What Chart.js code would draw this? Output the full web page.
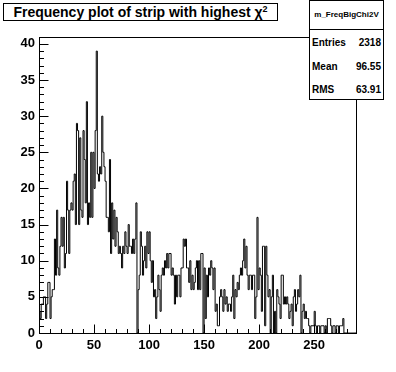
<!DOCTYPE html>
<html>
<head>
<meta charset="utf-8">
<script src="https://cdn.jsdelivr.net/npm/chart.js@4"></script>
<style>
  body { margin: 0; background: #fff; }
  #wrap { position: relative; width: 396px; height: 372px; font-family: "Liberation Sans", Arial, sans-serif; }
  #c { position: absolute; left: 0; top: 0; }
  .title {
    position: absolute; left: 3px; top: 3px; width: 275px; height: 18px;
    box-sizing: border-box; border: 1px solid #000; background: #fff;
    font-weight: bold; font-size: 14px; line-height: 16px; text-align: center;
  }
  .title sup { font-size: 9px; vertical-align: 5px; line-height: 0; }
  .stats {
    position: absolute; left: 309px; top: 0px; width: 75px; height: 100px;
    box-sizing: border-box; border: 1px solid #000; background: #fff;
    font-weight: bold; font-size: 10px;
  }
  .stats .head { height: 28px; line-height: 28px; border-bottom: 1px solid #000; text-align: center; font-size: 8px; }
  .stats .row { position: absolute; left: 2px; right: 2px; height: 12px; line-height: 12px; }
  .stats .row span { float: right; }
</style>
</head>
<body>
<div id="wrap">
  <canvas id="c" width="396" height="372"></canvas>
  <div class="title">Frequency plot of strip with highest &chi;<sup>2</sup></div>
  <div class="stats">
    <div class="head">m_FreqBigChi2V</div>
    <div class="row" style="top:36px">Entries<span>2318</span></div>
    <div class="row" style="top:60px">Mean<span>96.55</span></div>
    <div class="row" style="top:83px">RMS<span>63.91</span></div>
  </div>
</div>
<script>
// ----------------------------
// DATA (one bin per strip, 0..287)
// ----------------------------
const xMin = 0;
const xMax = 288;
const yMax = 40.95;
const xTicks = [0, 50, 100, 150, 200, 250];
const yTicks = [0, 5, 10, 15, 20, 25, 30, 35, 40];
const counts = [
  2, 3, 2, 4, 4, 5, 5, 2, 4, 7, 7, 2, 5, 6, 6,
  13, 8, 17, 9, 8, 12, 16, 12, 16, 9, 11, 21, 17, 11, 17, 18, 17, 21,
  22, 15, 29, 28, 15, 27, 17, 16, 28, 24, 18, 32, 15, 18, 16, 25, 16, 25, 20, 28,
  39, 22, 21, 23, 22, 30, 25, 23,
  21, 16, 16, 14, 24, 11, 18, 13, 17, 12, 16, 14, 11, 12, 11, 9, 12, 11, 14, 12,
  11, 15, 12, 12, 11, 13, 11, 13, 18, 0,
  6, 8, 14, 12, 8, 10, 12, 9, 14, 11, 14, 10, 7, 10, 5, 6, 2, 5, 8, 6,
  3, 8, 9, 8, 10, 9, 11, 9, 11, 11, 8, 9, 8, 4, 8, 5, 8, 8, 5, 9, 9, 13, 12, 13, 9, 9,
  7, 10, 6, 8, 6, 7, 9, 10, 6, 10, 6, 11, 11, 0, 9, 2, 8, 5, 9, 8, 10,
  9, 6, 9, 3, 4, 1, 1, 5, 6, 5, 3, 6, 4, 5, 3, 4,
  4, 3, 5, 8, 2, 6, 5, 7, 6, 8, 9, 8, 10, 13, 9, 12, 8, 6, 8, 8,
  6, 8, 8, 2, 5, 16, 6, 9, 8, 3, 12, 12, 1, 12, 8, 5, 6, 0, 5, 8,
  0, 3, 0, 6, 5, 4, 2, 8, 8, 4, 5, 4, 5,
  4, 2, 3, 4, 1, 5, 6, 3, 4, 6, 5, 8, 0,
  3, 4, 2, 3, 2, 2, 1, 0, 1, 1, 1, 3, 1, 0, 1, 1, 0, 1, 1, 1,
  0, 1, 0, 2, 2, 2, 1, 0, 1, 1, 0, 1, 1, 0, 1, 1, 1, 2, 0,
  0, 0, 0, 0, 0, 0, 0, 0, 0
];

// step outline: each bin starts at its lower edge, last point closes the top edge
const points = counts.map((v, i) => ({ x: i, y: v }));
points.push({ x: xMax, y: counts[counts.length - 1] });

// ----------------------------
// ROOT STYLE FRAME + INWARD TICKS
// ----------------------------
const rootFrame = {
  id: "rootFrame",
  afterDraw(chart) {
    const { ctx, chartArea: a, scales } = chart;
    const L = Math.round(a.left) + 0.5, R = Math.round(a.right) + 0.5;
    const T = Math.round(a.top) + 0.5, B = Math.round(a.bottom) + 0.5;
    ctx.save();
    ctx.strokeStyle = "#000";
    ctx.lineWidth = 1;
    ctx.strokeRect(L, T, R - L, B - T);
    ctx.beginPath();
    for (let v = 0; v <= 40; v++) {
      const y = Math.round(scales.y.getPixelForValue(v)) + 0.5;
      const len = v % 5 === 0 ? 9 : 4.5;
      ctx.moveTo(L, y);
      ctx.lineTo(L + len, y);
    }
    for (let v = 0; v <= 280; v += 10) {
      const x = Math.round(scales.x.getPixelForValue(v)) + 0.5;
      const len = v % 50 === 0 ? 9 : 4.5;
      ctx.moveTo(x, B);
      ctx.lineTo(x, B - len);
    }
    ctx.stroke();
    ctx.restore();
  },
};

Chart.defaults.font.family = '"Liberation Sans", Arial, sans-serif';
Chart.defaults.font.weight = "bold";
Chart.defaults.color = "#000";

new Chart(document.getElementById("c"), {
  type: "line",
  data: {
    datasets: [
      {
        data: points,
        stepped: "after",
        borderColor: "#000",
        borderWidth: 1,
        pointRadius: 0,
        fill: false,
        tension: 0,
      },
    ],
  },
  options: {
    responsive: false,
    animation: false,
    devicePixelRatio: 1,
    layout: { padding: { left: 0, top: 37, right: 40, bottom: 0 } },
    plugins: { legend: { display: false }, tooltip: { enabled: false } },
    scales: {
      x: {
        type: "linear",
        min: xMin,
        max: xMax,
        grid: { display: false, drawTicks: false },
        border: { display: false },
        ticks: { font: { size: 13, weight: "bold" }, padding: 5, maxRotation: 0 },
        afterBuildTicks: (s) => { s.ticks = xTicks.map((v) => ({ value: v })); },
        afterFit: (s) => { s.height = 39; },
      },
      y: {
        min: 0,
        max: yMax,
        grid: { display: false, drawTicks: false },
        border: { display: false },
        ticks: { font: { size: 13, weight: "bold" }, padding: 4 },
        afterBuildTicks: (s) => { s.ticks = yTicks.map((v) => ({ value: v })); },
        afterFit: (s) => { s.width = 39; },
      },
    },
  },
  plugins: [rootFrame],
});
</script>
</body>
</html>
